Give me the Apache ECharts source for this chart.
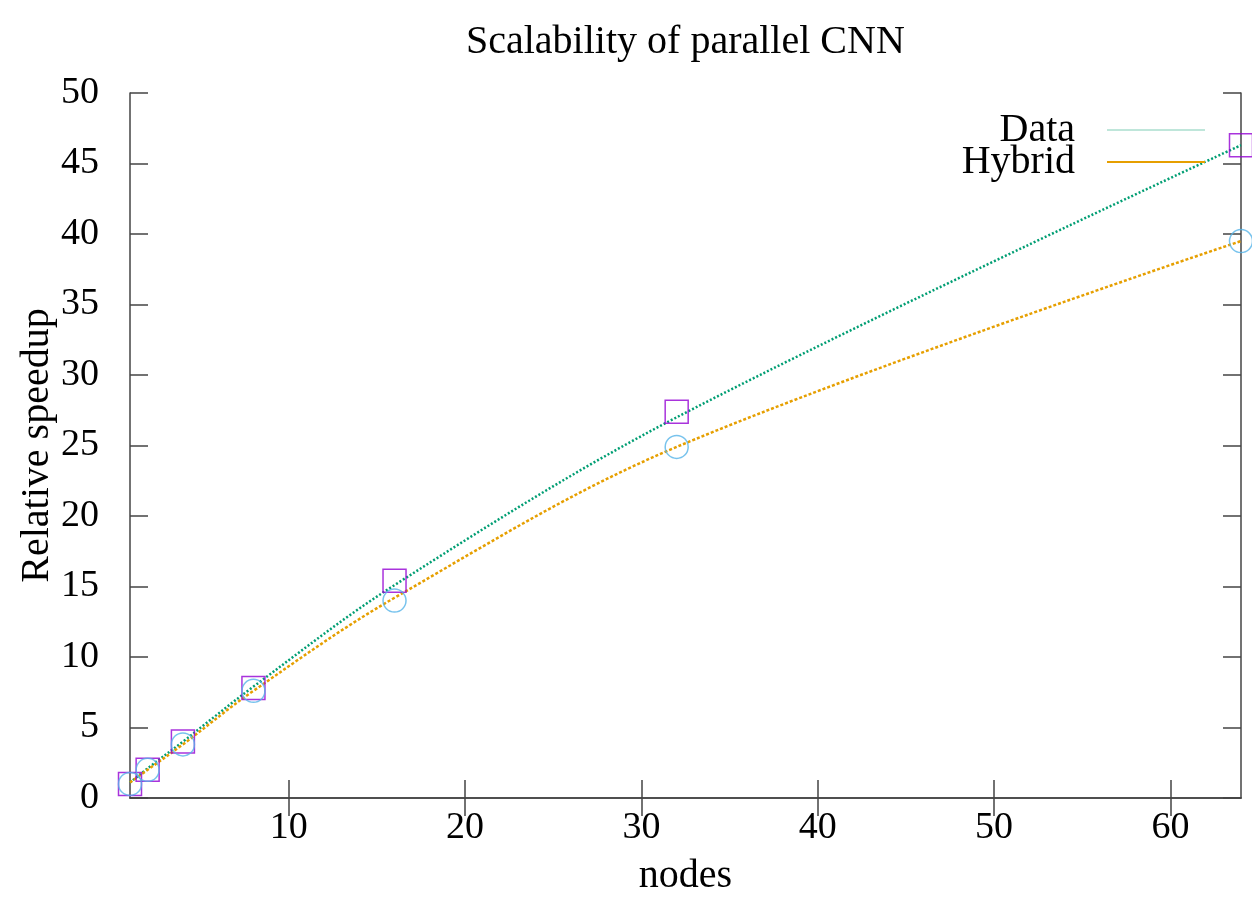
<!DOCTYPE html>
<html>
<head>
<meta charset="utf-8">
<script src="https://cdn.jsdelivr.net/npm/echarts@6/dist/echarts.min.js"></script>
<style>
html,body{margin:0;padding:0;background:#fff;}
#chart{width:1252px;height:909px;}
</style>
</head>
<body>
<div id="chart"></div>
<script>
const nodes = [1, 2, 4, 8, 16, 32, 64];
const dataPoints = [1.0, 2.0, 4.0, 7.8, 15.4, 27.4, 46.3];
const hybridPoints = [1.0, 2.0, 3.8, 7.6, 14.0, 24.9, 39.5];
const dataFit = [1.1, 2.1, 4.0, 7.9, 15.1, 27.0, 46.3];
const hybridFit = [1.1, 2.0, 3.8, 7.6, 14.2, 24.9, 39.5];
const xTicks = [10, 20, 30, 40, 50, 60];
const seriesNames = ['Data', 'Hybrid'];
const titleText = 'Scalability of parallel CNN';
const xName = 'nodes';
const yName = 'Relative speedup';

const FONT = '"Liberation Serif", "DejaVu Serif", serif';
const frame = { show: true, lineStyle: { color: '#444', width: 1.5 } };
const tick = { show: true, inside: true, length: 18, lineStyle: { color: '#444', width: 1.5 } };
const pair = (xs, ys) => xs.map((x, i) => [x, ys[i]]);

const chart = echarts.init(document.getElementById('chart'));
chart.setOption({
  animation: false,
  backgroundColor: '#fff',
  title: {
    text: titleText, left: 466, top: 22, padding: 0,
    textStyle: { fontFamily: FONT, fontSize: 40, fontWeight: 'normal', color: '#000' }
  },
  legend: {
    data: [
      { name: seriesNames[0], itemStyle: { color: '#bfe6da' }, lineStyle: { color: '#bfe6da', type: 'solid', width: 2 } },
      { name: seriesNames[1], itemStyle: { color: '#e69f00' }, lineStyle: { color: '#e69f00', type: 'solid', width: 2.5 } }
    ],
    orient: 'vertical', align: 'right', right: 42, top: 105,
    itemWidth: 98, itemHeight: 14, itemGap: -8, icon: 'path://M0,6 L100,6 L100,8 L0,8 Z',
    textStyle: { fontFamily: FONT, fontSize: 40, color: '#000', lineHeight: 32, padding: [0, 27, 0, 0] }
  },
  grid: { left: 130, right: 11, top: 93, bottom: 111 },
  xAxis: [
    {
      type: 'value', min: 1, max: 64, position: 'bottom',
      axisLine: frame, axisTick: Object.assign({ customValues: xTicks }, tick),
      axisLabel: { customValues: xTicks, fontFamily: FONT, fontSize: 38, color: '#000', margin: 11 },
      splitLine: { show: false },
      name: xName, nameLocation: 'middle', nameGap: 58, nameMoveOverlap: false,
      nameTextStyle: { fontFamily: FONT, fontSize: 40, color: '#000' }
    },
    {
      type: 'value', min: 1, max: 64, position: 'top',
      axisLine: frame, axisTick: Object.assign({ customValues: xTicks }, tick),
      axisLabel: { show: false }, splitLine: { show: false }
    }
  ],
  yAxis: [
    {
      type: 'value', min: 0, max: 50, interval: 5, position: 'left',
      axisLine: frame, axisTick: tick,
      axisLabel: { fontFamily: FONT, fontSize: 38, color: '#000', margin: 31 },
      splitLine: { show: false },
      name: yName, nameLocation: 'middle', nameGap: 73, nameRotate: 90, nameMoveOverlap: false,
      nameTextStyle: { fontFamily: FONT, fontSize: 40, color: '#000' }
    },
    {
      type: 'value', min: 0, max: 50, interval: 5, position: 'right',
      axisLine: frame, axisTick: tick,
      axisLabel: { show: false }, splitLine: { show: false }
    }
  ],
  series: [
    {
      name: seriesNames[0], type: 'line', xAxisIndex: 0, yAxisIndex: 0,
      data: pair(nodes, dataFit), smooth: 0.35, showSymbol: false, symbol: 'none',
      lineStyle: { color: '#009e73', width: 2.5, type: [2, 2] }, itemStyle: { color: '#009e73' }, z: 2
    },
    {
      name: seriesNames[1], type: 'line', xAxisIndex: 0, yAxisIndex: 0,
      data: pair(nodes, hybridFit), smooth: 0.35, showSymbol: false, symbol: 'none',
      lineStyle: { color: '#e69f00', width: 2.5, type: [3, 2] }, itemStyle: { color: '#e69f00' }, z: 2
    },
    {
      name: 'Data points', type: 'scatter', xAxisIndex: 0, yAxisIndex: 0,
      data: pair(nodes, dataPoints), symbol: 'rect', symbolSize: 23,
      itemStyle: { color: 'rgba(0,0,0,0)', borderColor: '#9400d3', borderWidth: 1.5 }, z: 3
    },
    {
      name: 'Hybrid points', type: 'scatter', xAxisIndex: 0, yAxisIndex: 0,
      data: pair(nodes, hybridPoints), symbol: 'circle', symbolSize: 23,
      itemStyle: { color: 'rgba(0,0,0,0)', borderColor: '#56b4e9', borderWidth: 1.5 }, z: 3
    }
  ]
});
</script>
</body>
</html>
